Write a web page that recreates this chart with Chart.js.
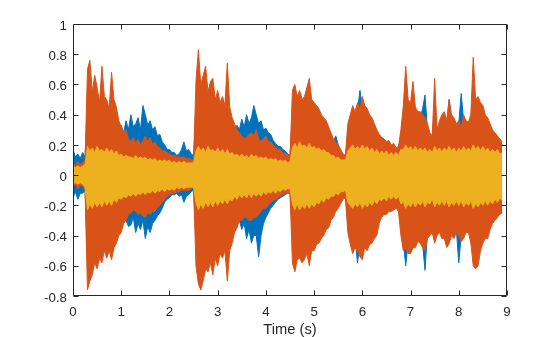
<!DOCTYPE html>
<html>
<head>
<meta charset="utf-8">
<title>Waveforms</title>
<script src="https://cdn.jsdelivr.net/npm/chart.js@4/dist/chart.umd.min.js"></script>
<style>
  html, body { margin: 0; padding: 0; background: #ffffff; }
  #wrap { width: 560px; height: 337px; position: relative; }
</style>
</head>
<body>
<div id="wrap"><canvas id="waveChart"></canvas></div>
<script>
// peak arrays are sampled every 0.05 s, starting at t = 0
const sampleStep = 0.05;

// channel 1 (blue): positive / negative peaks
const blueHi = [
  0.17, 0.12, 0.14, 0.11, 0.15, 0.12, 0.45, 0.38, 0.42, 0.36,
  0.40, 0.34, 0.42, 0.35, 0.38, 0.32, 0.40, 0.34, 0.36, 0.30,
  0.33, 0.28, 0.36, 0.30, 0.40, 0.32, 0.34, 0.38, 0.30, 0.46,
  0.40, 0.33, 0.36, 0.30, 0.32, 0.26, 0.27, 0.22, 0.20, 0.17,
  0.17, 0.15, 0.15, 0.13, 0.14, 0.17, 0.22, 0.16, 0.17, 0.14,
  0.13, 0.40, 0.55, 0.45, 0.50, 0.42, 0.45, 0.40, 0.46, 0.38,
  0.42, 0.36, 0.40, 0.34, 0.46, 0.30, 0.32, 0.30, 0.33, 0.30,
  0.37, 0.32, 0.40, 0.34, 0.38, 0.46, 0.40, 0.34, 0.36, 0.30,
  0.31, 0.28, 0.27, 0.23, 0.21, 0.19, 0.19, 0.17, 0.16, 0.14,
  0.13, 0.40, 0.46, 0.40, 0.42, 0.38, 0.40, 0.44, 0.48, 0.38,
  0.40, 0.35, 0.36, 0.32, 0.32, 0.28, 0.28, 0.24, 0.22, 0.26,
  0.20, 0.16, 0.13, 0.12, 0.30, 0.36, 0.40, 0.38, 0.42, 0.56,
  0.45, 0.40, 0.38, 0.34, 0.34, 0.30, 0.28, 0.25, 0.23, 0.22,
  0.21, 0.20, 0.19, 0.18, 0.17, 0.18, 0.26, 0.40, 0.55, 0.44,
  0.42, 0.46, 0.40, 0.38, 0.38, 0.44, 0.53, 0.30, 0.26, 0.24,
  0.45, 0.28, 0.33, 0.36, 0.38, 0.34, 0.50, 0.36, 0.34, 0.32,
  0.34, 0.54, 0.36, 0.33, 0.32, 0.36, 0.55, 0.45, 0.46, 0.42,
  0.40, 0.36, 0.34, 0.30, 0.27, 0.26, 0.24, 0.22, 0.20
];
const blueLo = [
  -0.15, -0.11, -0.16, -0.12, -0.12, -0.10, -0.55, -0.45, -0.50, -0.42,
  -0.48, -0.40, -0.46, -0.38, -0.44, -0.38, -0.44, -0.36, -0.38, -0.34,
  -0.36, -0.30, -0.30, -0.34, -0.33, -0.28, -0.38, -0.32, -0.36, -0.30,
  -0.42, -0.34, -0.38, -0.32, -0.30, -0.27, -0.25, -0.22, -0.18, -0.16,
  -0.15, -0.13, -0.13, -0.12, -0.14, -0.13, -0.18, -0.14, -0.13, -0.11,
  -0.10, -0.40, -0.55, -0.48, -0.52, -0.45, -0.50, -0.44, -0.50, -0.42,
  -0.45, -0.40, -0.42, -0.36, -0.48, -0.36, -0.36, -0.32, -0.32, -0.30,
  -0.36, -0.32, -0.42, -0.36, -0.45, -0.40, -0.40, -0.54, -0.40, -0.32,
  -0.28, -0.25, -0.22, -0.20, -0.18, -0.16, -0.15, -0.14, -0.13, -0.12,
  -0.12, -0.40, -0.48, -0.42, -0.46, -0.40, -0.45, -0.42, -0.48, -0.40,
  -0.42, -0.38, -0.38, -0.34, -0.34, -0.30, -0.30, -0.26, -0.24, -0.21,
  -0.20, -0.17, -0.14, -0.13, -0.34, -0.42, -0.46, -0.42, -0.58, -0.46,
  -0.48, -0.42, -0.44, -0.40, -0.40, -0.36, -0.34, -0.28, -0.25, -0.23,
  -0.23, -0.22, -0.21, -0.20, -0.20, -0.22, -0.34, -0.44, -0.60, -0.44,
  -0.46, -0.42, -0.42, -0.40, -0.42, -0.46, -0.63, -0.38, -0.36, -0.34,
  -0.40, -0.36, -0.36, -0.38, -0.40, -0.44, -0.42, -0.36, -0.38, -0.36,
  -0.58, -0.40, -0.38, -0.35, -0.36, -0.40, -0.50, -0.48, -0.50, -0.44,
  -0.40, -0.38, -0.36, -0.32, -0.29, -0.27, -0.25, -0.23, -0.22
];

// channel 2 (orange)
const orangeHi = [
  0.08, 0.06, 0.09, 0.07, 0.08, 0.10, 0.70, 0.76, 0.55, 0.66,
  0.58, 0.48, 0.72, 0.52, 0.50, 0.44, 0.68, 0.50, 0.45, 0.36,
  0.32, 0.28, 0.30, 0.24, 0.22, 0.25, 0.21, 0.24, 0.20, 0.23,
  0.26, 0.22, 0.25, 0.20, 0.22, 0.19, 0.18, 0.16, 0.16, 0.15,
  0.14, 0.13, 0.13, 0.12, 0.12, 0.12, 0.12, 0.11, 0.11, 0.10,
  0.10, 0.62, 0.83, 0.60, 0.66, 0.72, 0.55, 0.62, 0.64, 0.50,
  0.56, 0.48, 0.52, 0.46, 0.74, 0.45, 0.38, 0.34, 0.30, 0.28,
  0.26, 0.24, 0.25, 0.27, 0.28, 0.26, 0.30, 0.24, 0.22, 0.24,
  0.26, 0.22, 0.22, 0.20, 0.18, 0.17, 0.17, 0.15, 0.14, 0.14,
  0.12, 0.56, 0.60, 0.52, 0.56, 0.50, 0.52, 0.58, 0.64, 0.50,
  0.48, 0.46, 0.44, 0.40, 0.38, 0.36, 0.32, 0.28, 0.24, 0.22,
  0.20, 0.17, 0.14, 0.13, 0.34, 0.40, 0.46, 0.42, 0.48, 0.44,
  0.52, 0.46, 0.44, 0.40, 0.38, 0.34, 0.30, 0.27, 0.25, 0.24,
  0.22, 0.23, 0.20, 0.21, 0.18, 0.19, 0.30, 0.46, 0.72, 0.50,
  0.48, 0.62, 0.45, 0.42, 0.42, 0.40, 0.38, 0.34, 0.28, 0.26,
  0.64, 0.30, 0.36, 0.40, 0.42, 0.36, 0.50, 0.40, 0.38, 0.34,
  0.36, 0.32, 0.40, 0.36, 0.35, 0.40, 0.78, 0.50, 0.52, 0.48,
  0.46, 0.40, 0.38, 0.34, 0.30, 0.28, 0.26, 0.24, 0.22
];
const orangeLo = [
  -0.08, -0.06, -0.09, -0.07, -0.07, -0.10, -0.76, -0.70, -0.66, -0.58,
  -0.62, -0.55, -0.58, -0.50, -0.55, -0.50, -0.56, -0.48, -0.45, -0.40,
  -0.38, -0.32, -0.30, -0.26, -0.25, -0.23, -0.24, -0.26, -0.25, -0.27,
  -0.28, -0.25, -0.26, -0.24, -0.24, -0.21, -0.20, -0.18, -0.16, -0.14,
  -0.13, -0.12, -0.12, -0.11, -0.11, -0.10, -0.10, -0.10, -0.10, -0.09,
  -0.08, -0.60, -0.72, -0.76, -0.70, -0.62, -0.64, -0.58, -0.66, -0.55,
  -0.60, -0.52, -0.55, -0.50, -0.70, -0.50, -0.45, -0.38, -0.35, -0.30,
  -0.30, -0.28, -0.28, -0.30, -0.30, -0.28, -0.28, -0.26, -0.24, -0.22,
  -0.22, -0.20, -0.18, -0.17, -0.16, -0.15, -0.14, -0.13, -0.12, -0.12,
  -0.11, -0.58, -0.64, -0.56, -0.55, -0.58, -0.56, -0.52, -0.60, -0.50,
  -0.50, -0.46, -0.45, -0.42, -0.40, -0.36, -0.35, -0.30, -0.28, -0.24,
  -0.22, -0.19, -0.16, -0.15, -0.38, -0.46, -0.52, -0.48, -0.50, -0.54,
  -0.56, -0.48, -0.50, -0.46, -0.45, -0.42, -0.40, -0.32, -0.28, -0.26,
  -0.26, -0.24, -0.24, -0.23, -0.22, -0.24, -0.40, -0.50, -0.48, -0.52,
  -0.52, -0.48, -0.48, -0.44, -0.45, -0.48, -0.50, -0.42, -0.40, -0.38,
  -0.45, -0.40, -0.38, -0.42, -0.42, -0.48, -0.45, -0.40, -0.42, -0.38,
  -0.40, -0.44, -0.42, -0.38, -0.38, -0.45, -0.60, -0.62, -0.60, -0.50,
  -0.45, -0.42, -0.42, -0.36, -0.32, -0.30, -0.28, -0.26, -0.25
];

// channel 3 (yellow)
const yellowHi = [
  0.06, 0.05, 0.06, 0.05, 0.06, 0.07, 0.19, 0.16, 0.18, 0.15,
  0.19, 0.16, 0.17, 0.15, 0.18, 0.15, 0.17, 0.14, 0.16, 0.13,
  0.14, 0.12, 0.13, 0.12, 0.12, 0.11, 0.13, 0.11, 0.12, 0.11,
  0.12, 0.10, 0.11, 0.10, 0.11, 0.09, 0.10, 0.09, 0.10, 0.09,
  0.10, 0.08, 0.09, 0.08, 0.09, 0.08, 0.09, 0.08, 0.08, 0.08,
  0.08, 0.16, 0.19, 0.16, 0.18, 0.15, 0.19, 0.16, 0.17, 0.15,
  0.18, 0.15, 0.17, 0.14, 0.17, 0.14, 0.15, 0.13, 0.14, 0.12,
  0.14, 0.12, 0.13, 0.11, 0.14, 0.12, 0.13, 0.11, 0.12, 0.11,
  0.12, 0.10, 0.11, 0.10, 0.11, 0.09, 0.10, 0.09, 0.10, 0.08,
  0.09, 0.18, 0.21, 0.18, 0.22, 0.19, 0.20, 0.18, 0.21, 0.18,
  0.19, 0.17, 0.18, 0.16, 0.17, 0.15, 0.15, 0.13, 0.13, 0.11,
  0.12, 0.10, 0.10, 0.10, 0.16, 0.18, 0.20, 0.17, 0.19, 0.17,
  0.20, 0.17, 0.19, 0.16, 0.18, 0.15, 0.17, 0.14, 0.16, 0.14,
  0.16, 0.13, 0.15, 0.13, 0.15, 0.13, 0.17, 0.17, 0.20, 0.17,
  0.19, 0.16, 0.19, 0.16, 0.18, 0.16, 0.18, 0.15, 0.17, 0.15,
  0.19, 0.16, 0.18, 0.15, 0.18, 0.16, 0.19, 0.16, 0.18, 0.15,
  0.18, 0.16, 0.19, 0.16, 0.18, 0.16, 0.20, 0.17, 0.19, 0.16,
  0.19, 0.16, 0.18, 0.15, 0.17, 0.15, 0.17, 0.14, 0.15
];
const yellowLo = [
  -0.06, -0.05, -0.06, -0.05, -0.06, -0.08, -0.23, -0.19, -0.22, -0.18,
  -0.21, -0.18, -0.21, -0.17, -0.20, -0.17, -0.20, -0.16, -0.18, -0.15,
  -0.16, -0.14, -0.15, -0.13, -0.14, -0.12, -0.14, -0.12, -0.13, -0.11,
  -0.13, -0.11, -0.12, -0.10, -0.12, -0.10, -0.11, -0.09, -0.11, -0.09,
  -0.10, -0.09, -0.10, -0.08, -0.09, -0.08, -0.09, -0.08, -0.08, -0.08,
  -0.08, -0.18, -0.23, -0.19, -0.22, -0.18, -0.21, -0.18, -0.21, -0.17,
  -0.20, -0.17, -0.19, -0.16, -0.19, -0.16, -0.17, -0.14, -0.16, -0.13,
  -0.15, -0.13, -0.15, -0.12, -0.15, -0.12, -0.14, -0.12, -0.14, -0.11,
  -0.13, -0.11, -0.12, -0.10, -0.12, -0.10, -0.11, -0.09, -0.10, -0.09,
  -0.09, -0.19, -0.23, -0.19, -0.23, -0.20, -0.22, -0.19, -0.22, -0.19,
  -0.21, -0.18, -0.19, -0.16, -0.18, -0.15, -0.16, -0.14, -0.14, -0.12,
  -0.13, -0.11, -0.11, -0.10, -0.18, -0.20, -0.22, -0.19, -0.21, -0.18,
  -0.22, -0.19, -0.21, -0.18, -0.20, -0.17, -0.19, -0.16, -0.17, -0.15,
  -0.17, -0.14, -0.16, -0.14, -0.16, -0.14, -0.19, -0.18, -0.22, -0.19,
  -0.21, -0.18, -0.21, -0.18, -0.20, -0.17, -0.21, -0.18, -0.19, -0.16,
  -0.21, -0.18, -0.20, -0.17, -0.20, -0.17, -0.21, -0.18, -0.20, -0.17,
  -0.20, -0.17, -0.21, -0.18, -0.20, -0.17, -0.22, -0.19, -0.21, -0.18,
  -0.20, -0.17, -0.20, -0.17, -0.19, -0.16, -0.18, -0.15, -0.17
];

const xTicks = [0, 1, 2, 3, 4, 5, 6, 7, 8, 9];
const yTicks = [-0.8, -0.6, -0.4, -0.2, 0, 0.2, 0.4, 0.6, 0.8, 1];

const BLUE = '#0072BD';
const ORANGE = '#D95319';
const YELLOW = '#EDB120';
const AXIS = '#262626';
const FONT = 'Liberation Sans, Arial, sans-serif';

function toPoints(values) {
    return values.map((v, i) => ({ x: Math.round(i * sampleStep * 100) / 100, y: v }));
}

function waveSet(values, color, order) {
    return {
        data: toPoints(values),
        borderColor: color,
        backgroundColor: color,
        borderWidth: 1,
        pointRadius: 0,
        tension: 0,
        fill: 'origin',
        order: order
    };
}

// box with inward ticks on all four sides
const boxTicks = {
    id: 'boxTicks',
    afterDraw(chart) {
        const { ctx, chartArea: a, scales: { x, y } } = chart;
        const len = 5;
        const L = Math.round(a.left) + 0.5, R = Math.round(a.right) - 0.5;
        const T = Math.round(a.top) + 0.5, B = Math.round(a.bottom) - 0.5;
        ctx.save();
        ctx.strokeStyle = AXIS;
        ctx.lineWidth = 1;
        ctx.beginPath();
        ctx.rect(L, T, R - L, B - T);
        xTicks.forEach(v => {
            const px = Math.round(x.getPixelForValue(v)) + 0.5;
            ctx.moveTo(px, B); ctx.lineTo(px, B - len);
            ctx.moveTo(px, T); ctx.lineTo(px, T + len);
        });
        yTicks.forEach(v => {
            const py = Math.round(y.getPixelForValue(v)) + 0.5;
            ctx.moveTo(L, py); ctx.lineTo(L + len, py);
            ctx.moveTo(R, py); ctx.lineTo(R - len, py);
        });
        ctx.stroke();
        ctx.restore();
    }
};

const ctx = document.getElementById('waveChart');

new Chart(ctx, {
    type: 'line',
    data: {
        datasets: [
            waveSet(blueHi, BLUE, 3),
            waveSet(blueLo, BLUE, 3),
            waveSet(orangeHi, ORANGE, 2),
            waveSet(orangeLo, ORANGE, 2),
            waveSet(yellowHi, YELLOW, 1),
            waveSet(yellowLo, YELLOW, 1)
        ]
    },
    options: {
        responsive: true,
        maintainAspectRatio: false,
        animation: false,
        layout: { padding: { top: 24, right: 53, left: 0, bottom: 0 } },
        plugins: {
            legend: { display: false },
            tooltip: { enabled: false }
        },
        scales: {
            x: {
                type: 'linear',
                min: 0,
                max: 9,
                afterBuildTicks: s => { s.ticks = xTicks.map(v => ({ value: v })); },
                afterFit: s => { s.height = 41; },
                grid: { display: false, drawTicks: false },
                border: { display: false },
                ticks: {
                    padding: 8,
                    color: AXIS,
                    font: { family: FONT, size: 13.3 },
                    callback: v => String(v)
                },
                title: {
                    display: true,
                    text: 'Time (s)',
                    color: AXIS,
                    padding: { top: 0, bottom: 0 },
                    font: { family: FONT, size: 14.7, lineHeight: 1 }
                }
            },
            y: {
                min: -0.8,
                max: 1,
                afterBuildTicks: s => { s.ticks = yTicks.map(v => ({ value: v })); },
                afterFit: s => { s.width = 73; },
                grid: { display: false, drawTicks: false },
                border: { display: false },
                ticks: {
                    padding: 6,
                    labelOffset: 2,
                    color: AXIS,
                    font: { family: FONT, size: 13.3 },
                    callback: v => String(v)
                }
            }
        }
    },
    plugins: [boxTicks]
});
</script>
</body>
</html>
